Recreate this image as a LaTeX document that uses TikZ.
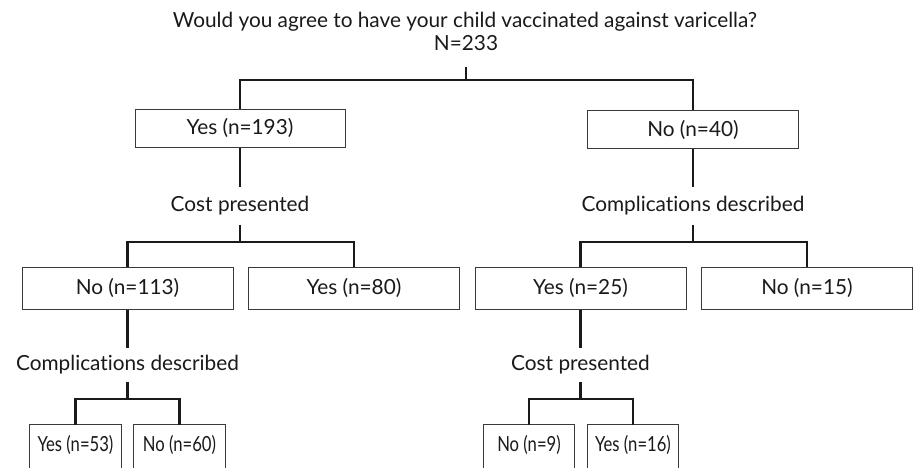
\documentclass[tikz,border=0pt]{standalone}
\usepackage{fontspec}
\setmainfont{Lato}[Ligatures=NoCommon]
\usetikzlibrary{calc}
\definecolor{ink}{HTML}{1A1A1A}
\definecolor{boxline}{HTML}{3A3A3A}
\begin{document}
\begin{tikzpicture}[x=1pt,y=-1pt,
  every node/.style={font=\fontsize{20.8}{24}\selectfont, text=ink},
  box/.style={draw=boxline, line width=1pt, minimum width=211pt, minimum height=38pt, inner sep=0pt},
  boxtwo/.style={box, minimum height=42pt},
  leaf/.style={inner sep=0pt, minimum width=91pt, minimum height=40pt},
  lab/.style={inner sep=0pt, minimum height=37pt},
  conn/.style={draw=ink, line width=2.4pt}]
\fill[white] (0,0) rectangle (917,467);
\clip (0,0) rectangle (917,467);
% title
\node (title) at (465,22) {Would you agree to have your child vaccinated against varicella?};
\node[inner sep=0pt, minimum height=48pt] (N) at (466,43) {N=233};
% level 1
\node[box, minimum width=210pt] (yes1) at (240,128) {Yes (n=193)};
\node[box] (no1) at (693,129.5) {No (n=40)};
\coordinate (j1) at (466,80);
\draw[conn] (N.south) -- (j1);
\draw[conn] (yes1.north) |- (j1) -| (no1.north);
% level 2 labels
\node[lab] (costA) at (240,206) {Cost presented};
\node[lab] (compA) at (693,206) {Complications described};
\draw[conn] (yes1.south) -- (costA.north);
\draw[conn] (no1.south) -- (compA.north);
% level 2 boxes
\node[boxtwo] (no113) at (127.5,288) {No (n=113)};
\node[boxtwo] (yes80) at (354,288) {Yes (n=80)};
\node[boxtwo] (yes25) at (580.5,288) {Yes (n=25)};
\node[boxtwo] (no15) at (807,288) {No (n=15)};
\coordinate (j2) at (240,242);
\coordinate (j3) at (693,242);
\draw[conn] (costA.south) -- (j2);
\draw[conn] (no113.north) |- (j2) -| (yes80.north);
\draw[conn] (compA.south) -- (j3);
\draw[conn] (yes25.north) |- (j3) -| (no15.north);
% level 3 labels
\node[lab, minimum height=34pt] (compB) at (127.5,365) {Complications described};
\node[lab, minimum height=34pt] (costB) at (580.5,365) {Cost presented};
\draw[conn] (no113.south) -- (compB.north);
\draw[conn] (yes25.south) -- (costB.north);
% leaves
\node[leaf] (yes53) at (75.5,445) {\scalebox{0.8}[1]{Yes (n=53)}};
\node[leaf] (no60) at (179.5,445) {\scalebox{0.8}[1]{No (n=60)}};
\node[leaf] (no9) at (529,445) {\scalebox{0.8}[1]{No (n=9)}};
\node[leaf] (yes16) at (633,445) {\scalebox{0.8}[1]{Yes (n=16)}};
\foreach \n in {yes53,no60,no9,yes16}{
  \draw[draw=boxline, line width=1pt] ($(\n.south west)+(0,20)$) -- (\n.north west) -- (\n.north east) -- ($(\n.south east)+(0,20)$);
}
\coordinate (j4) at (127.5,399);
\coordinate (j5) at (580.5,399);
\draw[conn] (compB.south) -- (j4);
\draw[conn] (yes53.north) |- (j4) -| (no60.north);
\draw[conn] (costB.south) -- (j5);
\draw[conn] (no9.north) |- (j5) -| (yes16.north);
\end{tikzpicture}
\end{document}
